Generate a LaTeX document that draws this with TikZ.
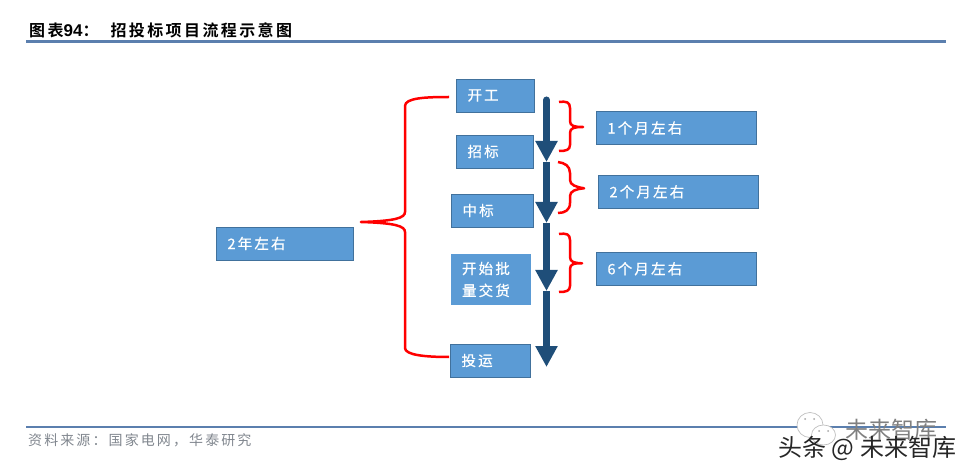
\documentclass[tikz,border=0pt]{standalone}
\usepackage{fontspec}
\usetikzlibrary{arrows.meta,positioning,calc}
\setmainfont{Noto Sans CJK SC}
\newfontfamily\boxfont[LetterSpace=15,FakeBold=0.5]{Noto Sans CJK SC}
\newfontfamily\sourcefont[LetterSpace=15]{Noto Sans CJK SC}
\newfontfamily\titlefont[LetterSpace=15,BoldFont={Noto Sans CJK SC Bold}]{Noto Sans CJK SC}
\newfontfamily\latinfont{Liberation Sans}
\definecolor{boxblue}{RGB}{91,155,213}
\definecolor{boxline}{RGB}{65,113,156}
\definecolor{arrowblue}{RGB}{31,78,121}
\definecolor{rulec}{RGB}{91,127,174}
\definecolor{sourcec}{RGB}{128,134,142}

\begin{document}
\begin{tikzpicture}[
      x=1pt, y=-1pt,
      n/.style={draw=boxline, fill=boxblue, line width=0.8pt, inner xsep=11pt, inner ysep=0pt,
        text width=#1, minimum height=33pt, align=left, text=white,
        font=\fontsize{14.5}{22}\selectfont\boxfont},
      brace/.style={red, line width=2.5pt, line join=round},
      flow/.style={arrowblue, line width=7pt, -{Triangle[length=21pt,width=21pt]}},
      rulel/.style={rulec, line width=#1},
      bubble/.style={draw=black!25, fill=white, line width=0.7pt}
    ]
      \useasboundingbox (0,0) rectangle (970,473);

      % header and footer
      \node[anchor=west, inner sep=0pt, font=\fontsize{16}{18}\selectfont\bfseries\titlefont] (title) at (29,30)
        {图表{\latinfont\fontsize{17}{18}\selectfont 94}：\hspace{12pt}招投标项目流程示意图};
      \draw[rulel=3pt] (26,41.5) -- (946,41.5);
      \draw[rulel=2pt] (26,427) -- (946,427);
      \node[anchor=west, inner sep=0pt, text=sourcec, font=\fontsize{14}{16}\selectfont\sourcefont] (source) at (28,440)
        {资料来源：国家电网，华泰研究};

      % left column
      \node[n=115pt] (year) at (285,243.5) {2年左右};

      % milestones
      \node[n=56pt] (kaigong) at (495.5,95.5) {开工};
      \node[n=55pt, below=22.2pt of kaigong, xshift=-0.5pt] (zhaobiao) {招标};
      \node[n=60pt, below=25.2pt of zhaobiao, xshift=-2.5pt] (zhongbiao) {中标};
      \node[n=58pt, draw=none, minimum height=51pt, below=26.2pt of zhongbiao, xshift=-1.5pt] (jiaohuo) {开始批\\量交货};
      \node[n=58pt, below=38.2pt of jiaohuo, xshift=-0.5pt] (touyun) {投运};

      % durations
      \node[n=138pt] (month1) at (676.5,128) {1个月左右};
      \node[n=138pt, below=30pt of month1, xshift=2pt] (month2) {2个月左右};
      \node[n=138pt, below=43.2pt of month2, xshift=-2pt] (month6) {6个月左右};

      % flow arrows
      \coordinate (f0) at (546.5,100);
      \coordinate (f1) at (546.5,162);
      \coordinate (f2) at (546.5,223);
      \coordinate (f3) at (546.5,291);
      \coordinate (f4) at (546.5,367);
      \draw[flow, line cap=round] (f0) -- (f1);
      \draw[flow] (f1) -- (f2);
      \draw[flow] (f2) -- (f3);
      \draw[flow] (f3) -- (f4);

      % big brace
      \coordinate (big) at ($(year.east)+(7,-21.5)$);
      \coordinate (bigtop) at ($(kaigong.west)+(-7,1.5)$);
      \coordinate (bigbot) at ($(touyun.west)+(-1,-3.5)$);
      \draw[brace] (bigtop) .. controls (425,97) and (405,98) .. (405,106) -- (405,212)
        .. controls (405,218) and (395,221) .. (big)
        .. controls (395,223) and (405,226) .. (405,232) -- (405,348)
        .. controls (405,355) and (425,357) .. (bigbot);

      % small braces
      \coordinate (tip1) at ($(month1.west)+(-13,-1)$);
      \coordinate (tip2) at ($(month2.west)+(-14,-3.5)$);
      \coordinate (tip6) at ($(month6.west)+(-14,-5.5)$);
      \draw[brace] (559,102) .. controls (566,101) and (570,102) .. (570,108) -- (570,121)
        .. controls (570,126) and (574,127) .. (tip1)
        .. controls (574,127) and (570,128) .. (570,133) -- (570,145)
        .. controls (570,150) and (566,151) .. (559,151);
      \draw[brace] (558,162) .. controls (565,163) and (570,166) .. (570,173) -- (570,180)
        .. controls (570,185) and (576,187) .. (tip2)
        .. controls (576,189) and (570,191) .. (570,196) -- (570,203)
        .. controls (570,210) and (565,213) .. (558,213);
      \draw[brace] (559,234) .. controls (566,233) and (570,234) .. (570,240) -- (570,257)
        .. controls (570,262) and (574,263) .. (tip6)
        .. controls (574,263) and (570,264) .. (570,269) -- (570,286)
        .. controls (570,291) and (566,292) .. (559,292);

      % watermark
      \filldraw[bubble] (810,425) ellipse (13 and 12.5);
      \filldraw[bubble] (823.5,435) ellipse (12 and 10);
      \fill[black!35] (805,419) circle (1) (814,419) circle (1) (819,431) circle (1) (828,431) circle (1);
      \node[anchor=west, inner sep=0pt, text=black!50, font=\fontsize{23}{25}\selectfont] (mark) at (845,430) {未来智库};
      \node[anchor=west, inner sep=0pt, text=black!85, font=\fontsize{24}{26}\selectfont] (toutiao) at (778,448) {头条 @\hspace{6pt}未来智库};
    \end{tikzpicture}
\end{document}
